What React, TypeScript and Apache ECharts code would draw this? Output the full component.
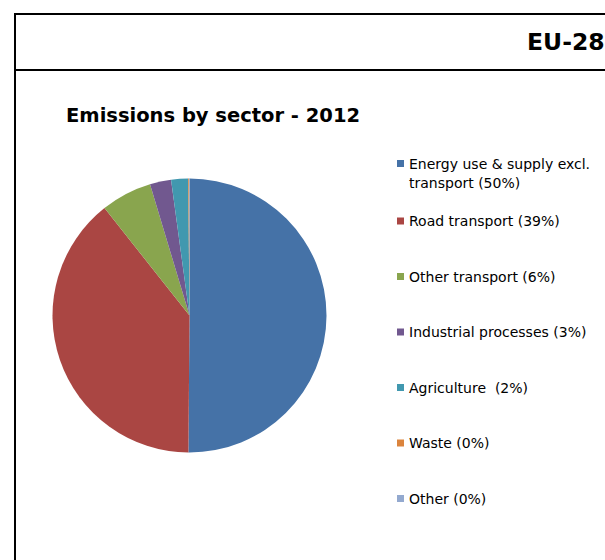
import React, { useEffect, useRef } from "react";
import * as echarts from "echarts";

const sectors = [
  "Energy use & supply excl. transport",
  "Road transport",
  "Other transport",
  "Industrial processes",
  "Agriculture ",
  "Waste",
  "Other",
];
const shareLabels = [50, 39, 6, 3, 2, 0, 0];
const emissions = [50.1, 39.2, 6.0, 2.5, 2.0, 0.1, 0.05];
const colors = ["#4572A7", "#AA4643", "#89A54E", "#71588F", "#4198AF", "#DB843D", "#93A9CF"];

const chartTitle = "Emissions by sector - 2012";
const headerText = "EU-28";

const W = 605;
const H = 560;
const FONT = "DejaVu Sans";
const LEGEND_FS = 14;
const LEGEND_LH = 19;

export default function App() {
  const ref = useRef<HTMLDivElement>(null);

  useEffect(() => {
    document.body.style.margin = "0";
    document.body.style.overflow = "hidden";
    if (!ref.current) return;
    const chart = echarts.init(ref.current, undefined, { renderer: "svg", width: W, height: H });

    const names = sectors.map((s, i) => `${s} (${shareLabels[i]}%)`);
    const data = names.map((n, i) => ({ name: n, value: emissions[i], itemStyle: { color: colors[i] } }));

    const legendCenters = names.map((_, i) => (i === 0 ? 163.5 : 221 + (i - 1) * 55.5));
    const legends = names.map((n, i) => ({
      data: [n],
      orient: "vertical",
      left: 397,
      top: i === 0 ? legendCenters[i] - 1.5 * LEGEND_LH : legendCenters[i] - LEGEND_LH / 2,
      padding: 0,
      icon: "rect",
      itemWidth: 7,
      itemHeight: 7,
      selectedMode: false,
      formatter: (name: string) =>
        i === 0 ? " \n" + name.replace("excl. ", "excl.\n") : name,
      textStyle: {
        fontFamily: FONT,
        fontSize: LEGEND_FS,
        lineHeight: LEGEND_LH,
        color: "#000",
      },
    }));

    chart.setOption({
      animation: false,
      backgroundColor: "#fff",
      title: {
        text: chartTitle,
        left: 66,
        top: 105.5,
        padding: 0,
        textStyle: {
          fontFamily: FONT,
          fontSize: 19.5,
          fontWeight: "bold",
          color: "#000",
        },
      },
      legend: legends,
      graphic: [
        { type: "line", shape: { x1: 14, y1: 14, x2: W, y2: 14 }, style: { stroke: "#000", lineWidth: 2 } },
        { type: "line", shape: { x1: 15, y1: 13, x2: 15, y2: H }, style: { stroke: "#000", lineWidth: 2 } },
        { type: "line", shape: { x1: 14, y1: 70, x2: W, y2: 70 }, style: { stroke: "#000", lineWidth: 2 } },
        {
          type: "text",
          x: 527,
          y: 41.5,
          style: {
            text: headerText,
            fontFamily: FONT,
            fontSize: 23.5,
            fontWeight: "bold",
            fill: "#000",
            verticalAlign: "middle",
          },
        },
      ],
      series: [
        {
          type: "pie",
          center: [189.5, 315.5],
          radius: 137,
          startAngle: 90,
          clockwise: true,
          label: { show: false },
          labelLine: { show: false },
          emphasis: { disabled: true },
          silent: true,
          itemStyle: { borderWidth: 0 },
          data,
        },
      ],
    });

    return () => chart.dispose();
  }, []);

  return <div ref={ref} style={{ width: W, height: H }} />;
}
